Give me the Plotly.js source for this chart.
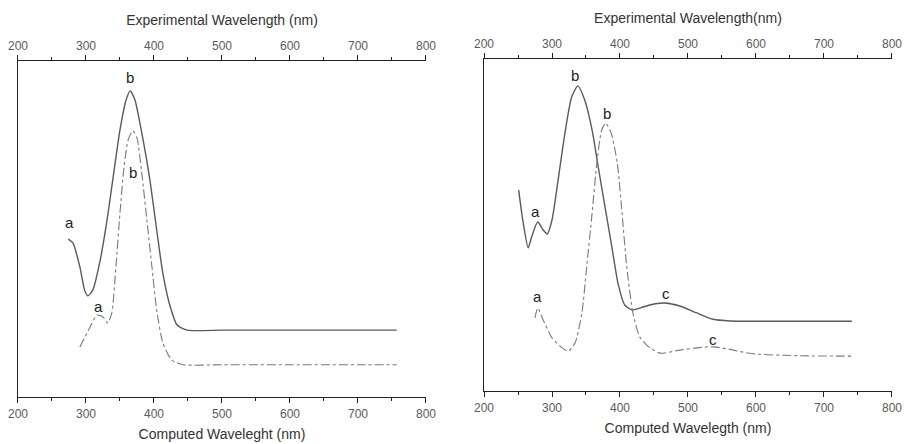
<!DOCTYPE html>
<html>
<head>
<meta charset="utf-8">
<script src="https://cdn.plot.ly/plotly-3.0.1.min.js"></script>
<style>html,body{margin:0;padding:0;background:#fff;}#chart{width:904px;height:444px;}</style>
</head>
<body>
<div id="chart"></div>
<script>
// Left panel
const leftSolidX = [274, 281, 291, 298, 303, 310, 321, 331, 340, 350, 359, 365, 372, 384, 394, 404, 413, 424, 434, 449, 500, 600, 700, 757];
const leftSolidY = [47.0, 45.8, 38.7, 31.8, 30.1, 31.8, 40.8, 52.7, 65.5, 79.5, 88.4, 91.1, 88.4, 76.5, 64.6, 49.7, 36.9, 26.8, 21.4, 19.9, 19.9, 19.9, 19.9, 19.9];
const leftDashX = [291, 306, 316, 325, 332, 338, 344, 350, 356, 362, 369, 375, 382, 390, 397, 404, 413, 426, 443, 500, 600, 700, 757];
const leftDashY = [14.9, 20.8, 24.4, 23.8, 22.0, 25.0, 38.7, 54.8, 68.5, 76.5, 79.2, 77.1, 66.7, 51.8, 38.7, 25.9, 16.1, 11.0, 9.6, 9.6, 9.6, 9.6, 9.6];
// Right panel
const rightSolidX = [251, 257, 265, 270, 279, 287, 293, 300, 309, 319, 329, 338, 348, 359, 368, 378, 388, 397, 407, 418, 434, 450, 466, 488, 513, 537, 562, 600, 700, 741];
const rightSolidY = [60.5, 51.5, 43.1, 46.4, 50.9, 48.5, 47.3, 51.5, 63.6, 77.7, 88.6, 91.9, 87.7, 78.6, 67.5, 55.4, 43.4, 32.5, 25.9, 24.4, 25.3, 26.2, 26.5, 25.6, 23.5, 21.6, 21.1, 21.0, 21.0, 21.0];
const rightDashX = [275, 279, 287, 300, 315, 324, 334, 344, 351, 359, 366, 373, 379, 387, 396, 403, 410, 419, 429, 444, 459, 488, 513, 537, 560, 581, 601, 665, 741];
const rightDashY = [22.0, 25.0, 21.4, 16.0, 13.0, 12.0, 14.5, 23.5, 37.3, 53.6, 68.7, 78.6, 80.7, 77.7, 68.7, 53.6, 37.3, 23.5, 16.3, 13.0, 11.4, 12.3, 13.0, 13.3, 12.6, 11.7, 11.1, 10.6, 10.5];
// Peak labels
const leftLabelText = ['a', 'b', 'b', 'a'];
const leftLabelX = [276, 365, 369, 318];
const leftLabelY = [51.8, 95.2, 66.7, 26.8];
const rightLabelText = ['a', 'b', 'b', 'a', 'c', 'c'];
const rightLabelX = [276, 334, 381, 278, 468, 537];
const rightLabelY = [54.2, 94.9, 83.7, 28.6, 29.5, 15.4];
// Axis text
const tickVals = [200, 300, 400, 500, 600, 700, 800];
const leftTopTitle = 'Experimental Wavelength (nm)';
const leftBottomTitle = 'Computed Waveleght (nm)';
const rightTopTitle = 'Experimental Wavelength(nm)';
const rightBottomTitle = 'Computed Wavelegth (nm)';

const solidLine = {color: '#5a5a5a', width: 1.4};
const dashLine = {color: '#7a7a7a', width: 1.1, dash: 'dashdot'};

const traces = [
  {x: leftSolidX, y: leftSolidY, xaxis: 'x', yaxis: 'y', mode: 'lines', line: Object.assign({shape: 'spline', smoothing: 0.6}, solidLine), hoverinfo: 'skip'},
  {x: leftDashX, y: leftDashY, xaxis: 'x', yaxis: 'y', mode: 'lines', line: Object.assign({shape: 'spline', smoothing: 0.6}, dashLine), hoverinfo: 'skip'},
  {x: rightSolidX, y: rightSolidY, xaxis: 'x2', yaxis: 'y2', mode: 'lines', line: Object.assign({shape: 'spline', smoothing: 0.6}, solidLine), hoverinfo: 'skip'},
  {x: rightDashX, y: rightDashY, xaxis: 'x2', yaxis: 'y2', mode: 'lines', line: Object.assign({shape: 'spline', smoothing: 0.6}, dashLine), hoverinfo: 'skip'},
  {x: [200], y: [0], xaxis: 'x3', yaxis: 'y', mode: 'markers', marker: {opacity: 0}, hoverinfo: 'skip'},
  {x: [200], y: [0], xaxis: 'x4', yaxis: 'y2', mode: 'markers', marker: {opacity: 0}, hoverinfo: 'skip'}
];

const tickFont = {family: 'Liberation Sans, Arial, sans-serif', size: 12, color: '#5a5a5a'};
const titleFont = {family: 'Liberation Sans, Arial, sans-serif', size: 14, color: '#333'};

function xax(domain, side, titleText, anchor, overlay) {
  const a = {
    domain: domain, range: [200, 800], side: side, anchor: anchor,
    tickmode: 'array', tickvals: tickVals,
    ticks: 'outside', ticklen: 5, tickwidth: 1, tickcolor: '#222',
    minor: {dtick: 50, tick0: 200, ticks: 'outside', ticklen: 3, tickcolor: '#222', showgrid: false},
    showline: true, linecolor: '#222', linewidth: 1.2,
    showgrid: false, zeroline: false, tickfont: tickFont,
    title: {text: titleText, font: titleFont, standoff: side === 'top' ? 10 : 9}
  };
  if (overlay) a.overlaying = overlay;
  return a;
}
function yax(domain, anchor) {
  return {domain: domain, range: [0, 100], anchor: anchor, showline: true, linecolor: '#222', linewidth: 1.2,
    ticks: '', showticklabels: false, showgrid: false, zeroline: false};
}

const annFont = {family: 'Liberation Sans, Arial, sans-serif', size: 15, color: '#222'};
const annotations = [];
leftLabelText.forEach((t, i) => annotations.push({x: leftLabelX[i], y: leftLabelY[i], xref: 'x', yref: 'y', text: t, showarrow: false, font: annFont}));
rightLabelText.forEach((t, i) => annotations.push({x: rightLabelX[i], y: rightLabelY[i], xref: 'x2', yref: 'y2', text: t, showarrow: false, font: annFont}));

const layout = {
  width: 904, height: 444,
  margin: {l: 0, r: 0, t: 0, b: 0},
  paper_bgcolor: '#fff', plot_bgcolor: '#fff',
  showlegend: false,
  xaxis: xax([0.0199, 0.4712], 'bottom', leftBottomTitle, 'y'),
  xaxis3: xax([0.0199, 0.4712], 'top', leftTopTitle, 'y', 'x'),
  yaxis: yax([0.1059, 0.8626], 'x'),
  xaxis2: xax([0.5354, 0.9867], 'bottom', rightBottomTitle, 'y2'),
  xaxis4: xax([0.5354, 0.9867], 'top', rightTopTitle, 'y2', 'x2'),
  yaxis2: yax([0.1194, 0.8671], 'x2'),
  annotations: annotations
};

Plotly.newPlot('chart', traces, layout, {staticPlot: true, displayModeBar: false});
</script>
</body>
</html>
